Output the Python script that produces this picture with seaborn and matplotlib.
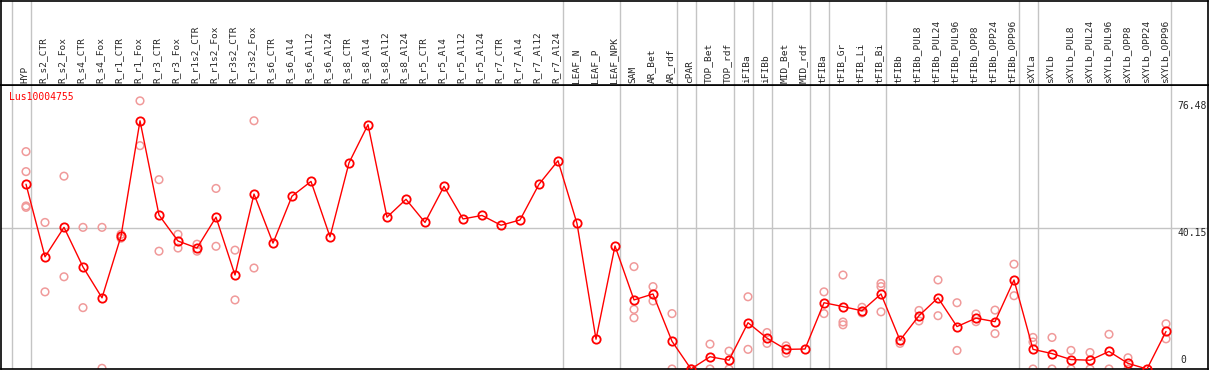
import pandas as pd
import matplotlib
matplotlib.use('Agg')
import matplotlib.pyplot as plt
import seaborn as sns

sns.set_style('white')
plt.rcParams['font.family'] = ['DejaVu Sans Mono']

# categories (x axis, in order)
categories = ['HYP', 'R_s2_CTR', 'R_s2_Fox', 'R_s4_CTR', 'R_s4_Fox', 'R_r1_CTR', 'R_r1_Fox',
              'R_r3_CTR', 'R_r3_Fox', 'R_r1s2_CTR', 'R_r1s2_Fox', 'R_r3s2_CTR', 'R_r3s2_Fox',
              'R_s6_CTR', 'R_s6_Al4', 'R_s6_Al12', 'R_s6_Al24', 'R_s8_CTR', 'R_s8_Al4',
              'R_s8_Al12', 'R_s8_Al24', 'R_r5_CTR', 'R_r5_Al4', 'R_r5_Al12', 'R_r5_Al24',
              'R_r7_CTR', 'R_r7_Al4', 'R_r7_Al12', 'R_r7_Al24', 'LEAF_N', 'LEAF_P', 'LEAF_NPK',
              'SAM', 'AR_Bet', 'AR_rdf', 'cPAR', 'TOP_Bet', 'TOP_rdf', 'iFIBa', 'iFIBb',
              'MID_Bet', 'MID_rdf', 'tFIBa', 'tFIB_Gr', 'tFIB_Li', 'tFIB_Bi', 'tFIBb',
              'tFIBb_PUL8', 'tFIBb_PUL24', 'tFIBb_PUL96', 'tFIBb_OPP8', 'tFIBb_OPP24',
              'tFIBb_OPP96', 'sXYLa', 'sXYLb', 'sXYLb_PUL8', 'sXYLb_PUL24', 'sXYLb_PUL96',
              'sXYLb_OPP8', 'sXYLb_OPP24', 'sXYLb_OPP96']

# mean expression per sample
means = [52.7, 32.0, 40.4, 29.1, 20.3, 37.9, 70.8, 43.9, 36.5, 34.5, 43.3, 26.8, 49.9,
         35.9, 49.3, 53.5, 37.7, 58.8, 69.7, 43.3, 48.4, 41.8, 52.1, 42.8, 43.8,
         41.0, 42.5, 52.7, 59.4, 41.5, 8.5, 35.1, 19.7, 21.4, 7.9, 0.0, 3.5, 2.5,
         13.2, 8.8, 5.6, 5.7, 18.9, 17.8, 16.6, 21.4, 8.2, 15.2, 20.3, 12.1, 14.5,
         13.5, 25.4, 5.6, 4.4, 2.7, 2.5, 5.0, 1.6, 0.0, 10.7]

# replicates (only where shown)
rep_samples = ['HYP', 'R_s2_CTR', 'R_s2_Fox', 'R_s4_CTR', 'R_s4_Fox', 'R_r1_CTR', 'R_r1_Fox',
               'R_r3_CTR', 'R_r3_Fox', 'R_r1s2_CTR', 'R_r1s2_Fox', 'R_r3s2_CTR', 'R_r3s2_Fox',
               'SAM', 'AR_Bet', 'AR_rdf', 'cPAR', 'TOP_Bet', 'TOP_rdf', 'iFIBa', 'iFIBb',
               'MID_Bet', 'tFIBa', 'tFIB_Gr', 'tFIB_Li', 'tFIB_Bi', 'tFIBb', 'tFIBb_PUL8',
               'tFIBb_PUL24', 'tFIBb_PUL96', 'tFIBb_OPP8', 'tFIBb_OPP24', 'tFIBb_OPP96',
               'sXYLa', 'sXYLb', 'sXYLb_PUL8', 'sXYLb_PUL24', 'sXYLb_PUL96', 'sXYLb_OPP8',
               'sXYLb_OPP96']
rep_values = [[62.0, 56.3, 46.5, 46.1], [41.8, 22.0], [55.0, 26.3], [40.4, 17.5], [40.4, 0.2],
              [38.4, 37.3], [76.48, 63.7], [54.0, 33.6], [38.4, 34.5], [35.6, 33.6],
              [51.5, 35.0], [33.9, 19.7], [70.8, 28.8],
              [29.2, 17.0, 14.6], [23.5, 19.4], [15.8, 0.0], [0.0, 0.0], [7.1, 0.0], [5.1, 0.0],
              [20.6, 5.6], [10.4, 7.3], [6.6, 4.5], [22.0, 15.8], [26.8, 13.4, 12.6],
              [17.6, 16.0], [24.4, 23.5, 16.3], [7.3], [16.7, 13.7], [25.4, 15.2],
              [18.9, 5.3], [15.7, 13.5], [16.8, 10.1], [29.9, 20.9], [9.0, 7.7, 0.0],
              [9.0, 0.0], [5.3, 0.0], [4.7, 0.0], [9.9, 0.0], [3.2, 0.0], [12.9, 8.6]]

# last sample of each group (separator lines)
group_last = ['HYP', 'R_r7_Al24', 'LEAF_NPK', 'AR_rdf', 'cPAR', 'TOP_rdf', 'iFIBa', 'iFIBb',
              'MID_rdf', 'tFIBa', 'tFIB_Bi', 'tFIBb_OPP96', 'sXYLa', 'sXYLb_OPP96']

gene = 'Lus10004755'
y_ticks = [76.48, 40.15, 0]

df_mean = pd.DataFrame({'pos': range(len(categories)), 'value': means})
rows = []
for s, vals in zip(rep_samples, rep_values):
    for v in vals:
        rows.append((categories.index(s), v))
df_rep = pd.DataFrame(rows, columns=['pos', 'value'])

W, H = 1209, 370
fig = plt.figure(figsize=(W / 100, H / 100), dpi=100)
ax = fig.add_axes([1 / W, 1 / H, 1207 / W, 284 / H])
hx = fig.add_axes([1 / W, 285 / H, 1207 / W, 84.4 / H])

xlim = ((1 - 26) / 19, (1208 - 26) / 19)
grid_c = '#c4c4c4'

# separators
seps = [-1] + [categories.index(c) for c in group_last]
for a in (ax, hx):
    for s in seps:
        a.axvline(s + 0.24, color=grid_c, lw=1, zorder=0)
ax.axhline(40.15, color=grid_c, lw=1, zorder=0)

sns.scatterplot(data=df_rep, x='pos', y='value', ax=ax, marker='o', s=30,
                facecolor='none', edgecolor='#f09a9a', linewidth=1.1, zorder=2)
sns.lineplot(data=df_mean, x='pos', y='value', ax=ax, color='#ff0000', lw=1,
             marker='o', markersize=6, markerfacecolor='none', markeredgecolor='#ff0000',
             markeredgewidth=1.3, zorder=3)

ax.set_xlim(*xlim)
ax.set_ylim(0, 81)
ax.set_xticks([])
ax.set_yticks([])
ax.set_xlabel('')
ax.set_ylabel('')
for sp in ax.spines.values():
    sp.set_color('black')
    sp.set_linewidth(1.2)

ax.text(8 / 1207, 1 - 12 / 284, gene, transform=ax.transAxes, color='#ff0000',
        fontsize=7, va='center', ha='left')
tx = ax.get_yaxis_transform()
xr = (1177 - 1) / 1207
ax.text(xr, 76.48, '76.48', transform=tx, fontsize=7, va='top', ha='left')
ax.text(xr, 40.15, '40.15', transform=tx, fontsize=7, va='top', ha='left')
ax.text(xr + 3 / 1207, 1.2, '0', transform=tx, fontsize=7, va='bottom', ha='left')

# header with sample names
hx.set_xlim(*xlim)
hx.set_ylim(0, 85)
hx.set_xticks([])
hx.set_yticks([])
for sp in hx.spines.values():
    sp.set_color('black')
    sp.set_linewidth(1.2)
for i, c in enumerate(categories):
    hx.text(i - 0.08, 2, c, rotation=90, fontsize=6.8, ha='center', va='bottom')

fig.savefig('out.png', dpi=100)
